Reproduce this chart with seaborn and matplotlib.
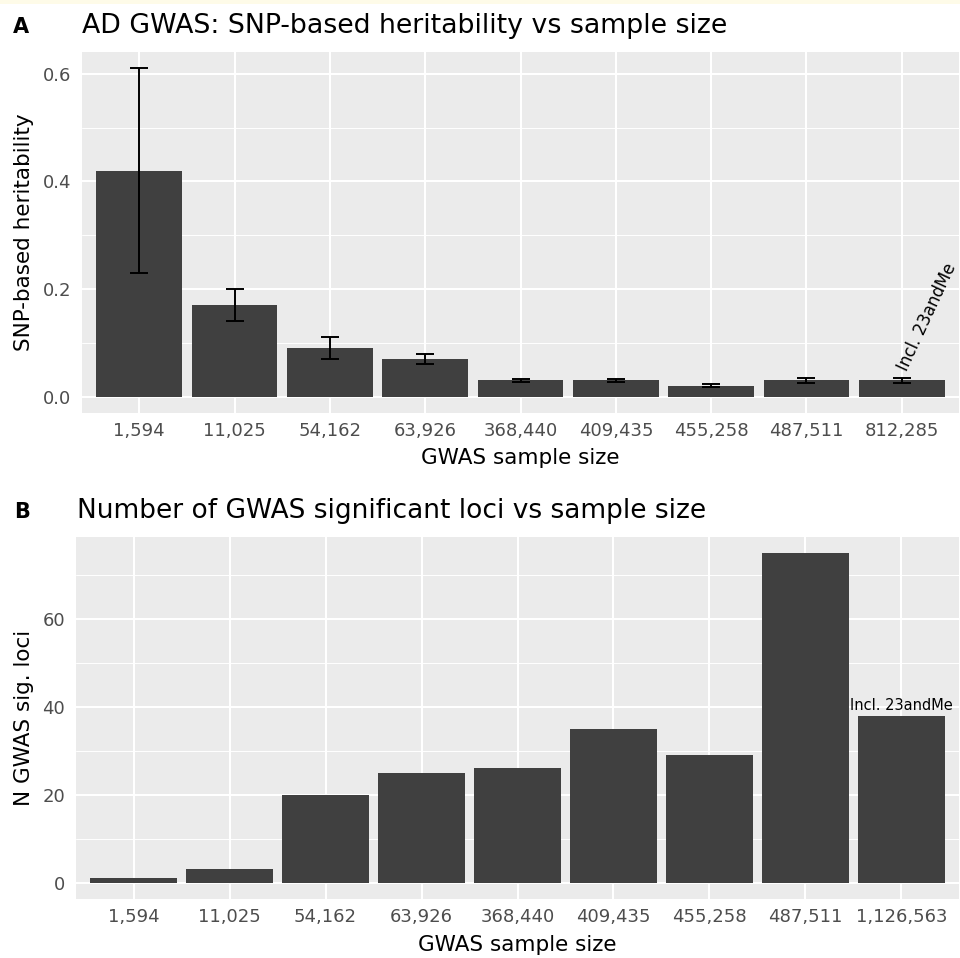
import matplotlib
matplotlib.use("Agg")
import matplotlib.pyplot as plt
import seaborn as sns
import pandas as pd
from matplotlib.patches import Rectangle

# ---------------- data ----------------
h2_sizes = ["1,594", "11,025", "54,162", "63,926", "368,440", "409,435", "455,258", "487,511", "812,285"]
h2_values = [0.42, 0.17, 0.09, 0.07, 0.03, 0.03, 0.02, 0.03, 0.03]
h2_lower = [0.23, 0.14, 0.07, 0.06, 0.027, 0.027, 0.018, 0.025, 0.025]
h2_upper = [0.61, 0.20, 0.11, 0.08, 0.033, 0.033, 0.024, 0.035, 0.035]

loci_sizes = ["1,594", "11,025", "54,162", "63,926", "368,440", "409,435", "455,258", "487,511", "1,126,563"]
loci_values = [1, 3, 20, 25, 26, 35, 29, 75, 38]

h2_yticks = [0.0, 0.2, 0.4, 0.6]
h2_yminor = [0.1, 0.3, 0.5]
loci_yticks = [0, 20, 40, 60]
loci_yminor = [10, 30, 50, 70]

annot_text = "Incl. 23andMe"

# ---------------- style ----------------
sns.set_theme(style="darkgrid")
plt.rcParams["font.family"] = ["DejaVu Sans"]
plt.rcParams["text.color"] = "black"
plt.rcParams["axes.labelcolor"] = "black"

W, H = 960, 958
fig = plt.figure(figsize=(W / 100, H / 100), dpi=100)
fig.patch.set_facecolor("white")
fig.patches.append(Rectangle((0, 1 - 4 / H), 1, 4 / H, transform=fig.transFigure,
                             facecolor="#FEFBE8", edgecolor="none", zorder=0))

BG = "#EBEBEB"
BAR = "#404040"
TICKC = "#333333"
LABC = "#4D4D4D"


def px_axes(left, top, right, bottom):
    return fig.add_axes([left / W, 1 - bottom / H, (right - left) / W, (bottom - top) / H])


def style_axes(ax, yticks, yminor, ylim):
    ax.set_facecolor(BG)
    for s in ax.spines.values():
        s.set_visible(False)
    ax.set_ylim(*ylim)
    ax.set_xlim(-0.6, 8.6)
    ax.set_yticks(yticks)
    ax.set_yticks(yminor, minor=True)
    ax.grid(False)
    ax.grid(True, which="major", axis="both", color="white", linewidth=1.5, zorder=0)
    ax.grid(True, which="minor", axis="y", color="white", linewidth=0.7, zorder=0)
    ax.set_axisbelow(True)
    ax.tick_params(axis="both", which="major", length=4, width=1.2, color=TICKC,
                   labelcolor=LABC, labelsize=13)
    ax.tick_params(axis="x", which="major", pad=2.5)
    ax.tick_params(axis="y", which="major", pad=4)
    ax.tick_params(axis="y", which="minor", length=0)


# ---------------- panel A ----------------
axA = px_axes(82, 52, 959, 413)
dfA = pd.DataFrame({"size": h2_sizes, "h2": h2_values})
sns.barplot(data=dfA, x="size", y="h2", order=h2_sizes, color=BAR, saturation=1,
            width=0.9, errorbar=None, linewidth=0, ax=axA, zorder=2)
xs = list(range(len(h2_sizes)))
yerr = [[v - lo for v, lo in zip(h2_values, h2_lower)],
        [hi - v for v, hi in zip(h2_values, h2_upper)]]
axA.errorbar(xs, h2_values, yerr=yerr, fmt="none", ecolor="black", elinewidth=1.4,
             capsize=6.5, capthick=1.4, zorder=3)
style_axes(axA, h2_yticks, h2_yminor, (-0.0305, 0.6405))
axA.set_yticklabels([f"{t:.1f}" for t in h2_yticks])
axA.set_xlabel("GWAS sample size", fontsize=15.5, color="black")
axA.set_ylabel("SNP-based heritability", fontsize=15.5, color="black")
axA.xaxis.set_label_coords(0.5, -0.097)
axA.yaxis.set_label_coords((34 - 82) / 877, 0.5)
axA.text(8.05, 0.045, annot_text, rotation=65, rotation_mode="anchor",
         ha="left", va="baseline", fontsize=12, color="black", zorder=4)

fig.text(13 / W, 1 - 33 / H, "A", fontsize=15, fontweight="bold", ha="left", va="baseline")
fig.text(82 / W, 1 - 33 / H, "AD GWAS: SNP-based heritability vs sample size",
         fontsize=19.3, ha="left", va="baseline")

# ---------------- panel B ----------------
axB = px_axes(76, 537, 959, 899)
dfB = pd.DataFrame({"size": loci_sizes, "loci": loci_values})
sns.barplot(data=dfB, x="size", y="loci", order=loci_sizes, color=BAR, saturation=1,
            width=0.9, errorbar=None, linewidth=0, ax=axB, zorder=2)
style_axes(axB, loci_yticks, loci_yminor, (-3.75, 78.75))
axB.set_yticklabels([str(t) for t in loci_yticks])
axB.set_xlabel("GWAS sample size", fontsize=15.5, color="black")
axB.set_ylabel("N GWAS sig. loci", fontsize=15.5, color="black")
axB.xaxis.set_label_coords(0.5, -0.099)
axB.yaxis.set_label_coords((34 - 76) / 883, 0.5)
axB.text(8, loci_values[-1] + 0.6, annot_text, ha="center", va="bottom",
         fontsize=10.5, color="black", zorder=4)

fig.text(14 / W, 1 - 518 / H, "B", fontsize=15, fontweight="bold", ha="left", va="baseline")
fig.text(77 / W, 1 - 518 / H, "Number of GWAS significant loci vs sample size",
         fontsize=19, ha="left", va="baseline")

fig.savefig("out.png", dpi=100, facecolor=fig.get_facecolor())
